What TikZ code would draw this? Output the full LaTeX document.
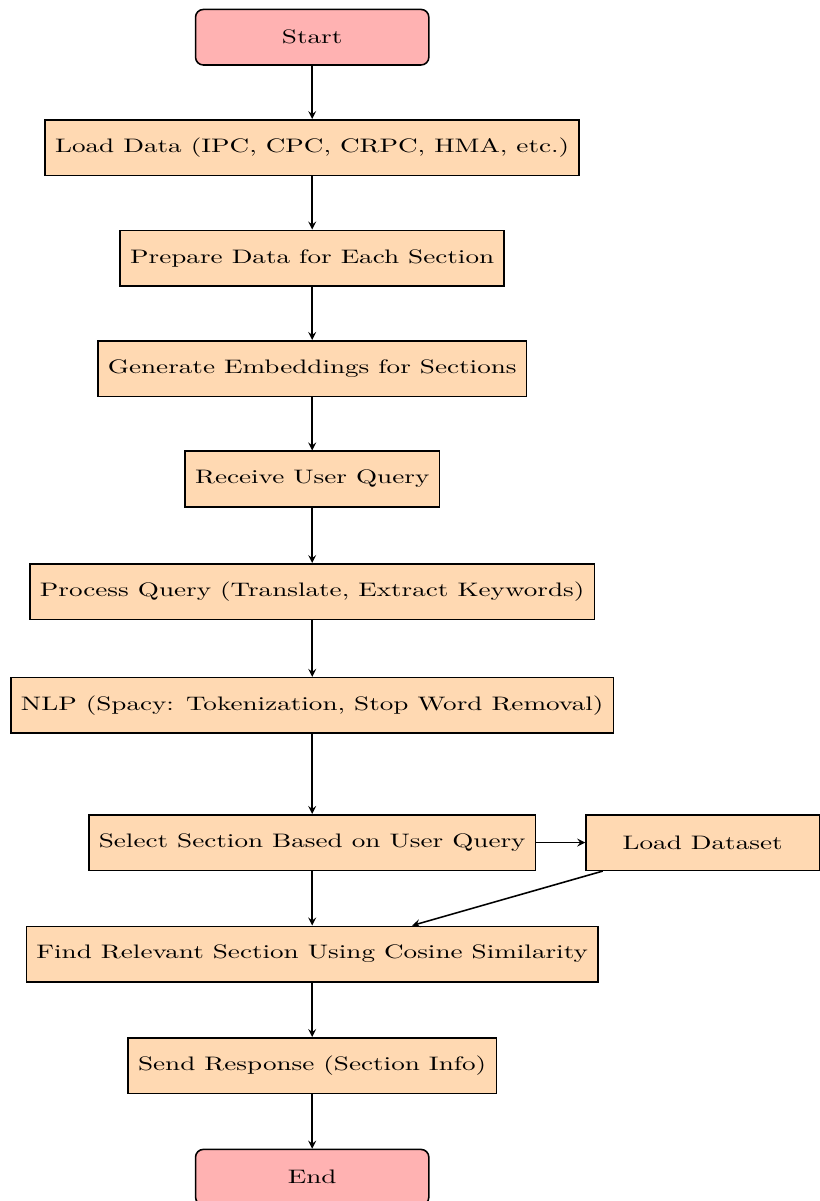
\documentclass[tikz,border=0pt]{standalone}
\usepackage{fontspec}
\setmainfont{lmroman10-regular.otf}[FakeStretch=1.39]
\usetikzlibrary{positioning,shapes.misc,arrows}

\tikzset{
  startstop/.style={rectangle, rounded corners, minimum width=4.2cm, minimum height=1cm, draw=black, thick, fill=red!30},
  process/.style={rectangle, minimum height=1cm, inner xsep=0.18cm, draw=black, thick, fill=orange!30},
  dataset/.style={process, minimum width=4.2cm},
  flow/.style={thick, ->, >=stealth},
}

\begin{document}
\begin{tikzpicture}[node distance=0.96cm]
\useasboundingbox (-5.62,0.67) rectangle (9.13,-20.95);

\node[startstop] (start) at (0,0) {Start};
\node[process, below=of start] (load) {Load Data (IPC, CPC, CRPC, HMA, etc.)};
\node[process, below=of load] (prepare) {Prepare Data for Each Section};
\node[process, below=of prepare] (embed) {Generate Embeddings for Sections};
\node[process, below=of embed] (receive) {Receive User Query};
\node[process, below=1cm of receive] (procq) {Process Query (Translate, Extract Keywords)};
\node[process, below=1.02cm of procq] (nlp) {NLP (Spacy: Tokenization, Stop Word Removal)};
\node[process, below=1.44cm of nlp] (select) {Select Section Based on User Query};
\node[dataset, right=0.88cm of select] (data) {Load Dataset};
\node[process, below=0.98cm of select] (find) {Find Relevant Section Using Cosine Similarity};
\node[process, below=0.98cm of find] (respond) {Send Response (Section Info)};
\node[startstop, below=0.98cm of respond] (stop) {End};

\draw[flow]
  (start) -- (load);
\draw[flow] (load) -- (prepare);
\draw[flow] (prepare) -- (embed);
\draw[flow] (embed) -- (receive);
\draw[flow] (receive) -- (procq);
\draw[flow] (procq) -- (nlp);
\draw[flow] (nlp) -- (select);
\draw[flow] (select) -- (data);
\draw[flow] (select) -- (find);
\draw[flow] (data) -- (find);
\draw[flow] (find) -- (respond);
\draw[flow] (respond) -- (stop);
\end{tikzpicture}
\end{document}
